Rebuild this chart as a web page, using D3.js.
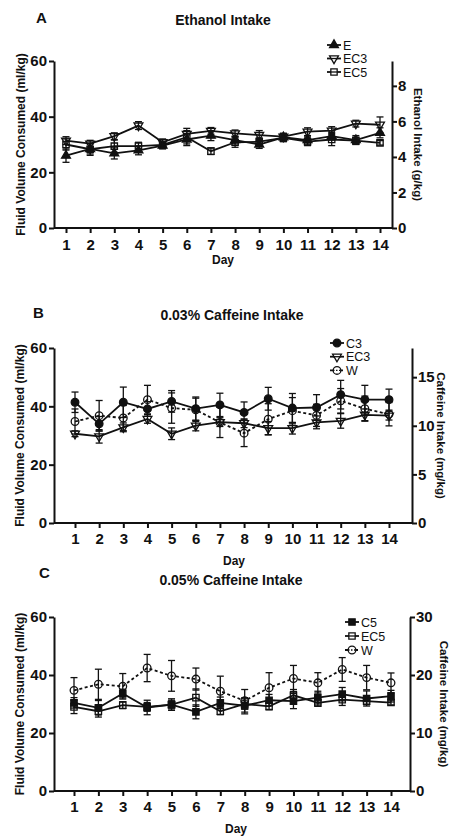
<!DOCTYPE html>
<html>
<head>
<meta charset="utf-8">
<script src="https://cdn.jsdelivr.net/npm/d3@7"></script>
<style>
body { margin: 0; background: #fff; }
svg text { font-family: "Liberation Sans", Arial, sans-serif; fill: #111; }
</style>
</head>
<body>
<svg id="chart" width="452" height="838"></svg>
<script>
// days on the x axis
var days = [1, 2, 3, 4, 5, 6, 7, 8, 9, 10, 11, 12, 13, 14];
var leftTicks = [0, 20, 40, 60];

// Panel A - ethanol intake (ml/kg), mean and SEM
var ethE      = [26.0, 28.4, 26.8, 27.9, 29.6, 31.8, 33.2, 31.6, 30.0, 32.6, 31.6, 33.0, 31.6, 34.2];
var ethE_sem  = [2.4, 1.8, 2.0, 1.6, 1.2, 2.2, 1.8, 1.4, 1.4, 1.4, 1.4, 1.4, 1.6, 1.8];
var ethEC3    = [31.4, 30.3, 33.0, 36.8, 30.8, 33.8, 34.9, 34.0, 33.4, 32.8, 34.6, 35.0, 37.5, 37.1];
var ethEC3_sem = [1.4, 1.2, 1.2, 1.4, 1.2, 2.0, 1.2, 1.2, 1.6, 1.2, 1.4, 1.4, 1.2, 2.8];
var ethEC5    = [30.0, 28.3, 29.4, 29.4, 29.9, 32.6, 27.6, 30.8, 31.0, 32.4, 31.0, 31.8, 31.4, 30.6];
var ethEC5_sem = [2.0, 2.2, 2.2, 1.4, 1.2, 2.4, 1.2, 1.8, 1.4, 1.4, 1.4, 2.2, 1.2, 0.8];
var ethRightTicks = [0, 2, 4, 6, 8];

// Panel B - 0.03% caffeine intake
var c3B       = [41.4, 34.0, 41.4, 39.1, 41.7, 39.2, 40.5, 37.9, 42.6, 39.4, 39.6, 44.0, 42.3, 42.3];
var c3B_sem   = [3.5, 2.5, 5.2, 2.5, 3.7, 4.0, 4.0, 3.6, 3.9, 5.0, 4.4, 4.9, 4.9, 3.6];
var ec3B      = [30.6, 29.7, 32.8, 35.7, 30.6, 33.4, 34.6, 34.2, 32.5, 32.5, 34.5, 35.0, 37.1, 36.8];
var ec3B_sem  = [1.0, 2.3, 1.5, 1.5, 2.0, 1.8, 1.5, 1.5, 2.3, 2.0, 2.2, 2.5, 2.0, 1.5];
var wB        = [34.8, 36.8, 36.0, 42.3, 39.4, 38.8, 34.5, 30.8, 35.6, 38.5, 36.9, 41.9, 39.2, 37.3];
var wB_sem    = [4.3, 5.2, 4.3, 4.9, 5.2, 4.0, 5.2, 4.6, 5.3, 4.5, 3.8, 4.2, 4.3, 4.0];
var cafBRightTicks = [0, 5, 10, 15];

// Panel C - 0.05% caffeine intake
var c5C       = [30.4, 28.7, 33.6, 28.8, 29.8, 27.3, 30.4, 29.4, 31.3, 31.0, 32.2, 33.4, 31.9, 32.7];
var c5C_sem   = [1.8, 2.5, 1.5, 2.5, 2.0, 2.4, 2.0, 2.8, 2.0, 2.6, 2.2, 2.3, 2.6, 2.0];
var ec5C      = [29.0, 27.5, 29.6, 29.0, 29.8, 32.2, 27.5, 30.0, 29.2, 33.0, 30.4, 31.5, 31.0, 30.5];
var ec5C_sem  = [2.3, 2.0, 1.2, 1.5, 1.5, 3.0, 1.2, 1.8, 1.2, 2.0, 1.2, 2.0, 1.2, 0.8];
var wC        = [34.7, 36.8, 36.1, 42.4, 39.7, 38.6, 34.4, 31.1, 35.6, 38.8, 37.3, 41.9, 39.1, 37.3];
var wC_sem    = [4.4, 5.2, 4.4, 4.7, 5.3, 3.8, 5.2, 3.9, 5.2, 4.5, 3.5, 4.1, 4.2, 3.4];
var cafCRightTicks = [0, 10, 20, 30];

var svg = d3.select('#chart');

// marker shapes: filled/open, symbol type, rotation
var shapes = {
    triUp:   { type: d3.symbolTriangle, size: 34, rot: 0, fill: '#111' },
    triDown: { type: d3.symbolTriangle, size: 34, rot: 180, fill: 'none' },
    sqOpen:  { type: d3.symbolSquare, size: 40, rot: 0, fill: 'none' },
    sqFill:  { type: d3.symbolSquare, size: 40, rot: 0, fill: '#111' },
    cirFill: { type: d3.symbolCircle, size: 46, rot: 0, fill: '#111' },
    cirOpen: { type: d3.symbolCircle, size: 46, rot: 0, fill: 'none' }
};

function zip(vals, sems) {
    return days.map(function(d, i) { return { day: d, v: vals[i], e: sems[i] }; });
}

function drawPanel(p) {
    var g = svg.append('g');
    var x = d3.scaleLinear().domain([1, 14]).range([p.x1, p.x14]);
    var y = d3.scaleLinear().domain([0, 60]).range([p.bottom, p.top]);
    var y2 = d3.scaleLinear().domain([0, p.rightMax]).range([p.bottom, p.top]);

    // axes
    var ax = g.append('g').attr('transform', 'translate(' + p.left + ',0)')
        .call(d3.axisLeft(y).tickValues(leftTicks).tickSize(5).tickPadding(2).tickSizeOuter(0));
    var ar = g.append('g').attr('transform', 'translate(' + p.right + ',0)')
        .call(d3.axisRight(y2).tickValues(p.rightTicks).tickSize(5).tickPadding(1).tickSizeOuter(0));
    var ab = g.append('g').attr('transform', 'translate(0,' + p.bottom + ')')
        .call(d3.axisBottom(x).tickValues(days).tickSize(5).tickPadding(p.xPad).tickSizeOuter(0));
    ab.select('.domain').remove();
    g.append('line')
        .attr('x1', p.left).attr('x2', p.right)
        .attr('y1', p.bottom).attr('y2', p.bottom)
        .attr('stroke', '#111').attr('stroke-width', 2);

    [ax, ar, ab].forEach(function(a) {
        a.selectAll('.domain').attr('stroke', '#111').attr('stroke-width', 2);
        a.selectAll('.tick line').attr('stroke', '#111').attr('stroke-width', 2);
        a.selectAll('.tick text')
            .attr('font-size', 15).attr('font-weight', 'bold')
            .style('font-family', '"Liberation Sans", Arial, sans-serif').attr('fill', '#111');
    });

    // titles
    g.append('text').attr('x', p.letterX).attr('y', p.letterY)
        .attr('font-size', 15).attr('font-weight', 'bold').text(p.letter);
    g.append('text').attr('x', p.titleX).attr('y', p.titleY)
        .attr('text-anchor', 'middle').attr('font-size', 14).attr('font-weight', 'bold').text(p.title);
    g.append('text').attr('x', p.dayX).attr('y', p.dayY)
        .attr('text-anchor', 'middle').attr('font-size', 12).attr('font-weight', 'bold').text('Day');
    var midY = (p.top + p.bottom) / 2;
    g.append('text')
        .attr('transform', 'translate(' + p.ylabX + ',' + midY + ') rotate(-90)')
        .attr('text-anchor', 'middle').attr('font-size', 12).attr('font-weight', 'bold')
        .text('Fluid Volume Consumed (ml/kg)');
    g.append('text')
        .attr('transform', 'translate(' + p.y2labX + ',' + midY + ') rotate(90)')
        .attr('text-anchor', 'middle').attr('font-size', 11.5).attr('font-weight', 'bold')
        .text(p.rightLabel);

    var line = d3.line().x(function(d) { return x(d.day); }).y(function(d) { return y(d.v); });

    p.series.forEach(function(s) {
        var data = zip(s.values, s.sem);
        var sg = g.append('g');
        // error bars
        var eb = sg.selectAll('.err').data(data).enter().append('g')
            .attr('stroke', '#111').attr('stroke-width', 1.3);
        eb.append('line')
            .attr('x1', function(d) { return x(d.day); }).attr('x2', function(d) { return x(d.day); })
            .attr('y1', function(d) { return y(d.v - d.e); }).attr('y2', function(d) { return y(d.v + d.e); });
        eb.append('line')
            .attr('x1', function(d) { return x(d.day) - 3.5; }).attr('x2', function(d) { return x(d.day) + 3.5; })
            .attr('y1', function(d) { return y(d.v + d.e); }).attr('y2', function(d) { return y(d.v + d.e); });
        eb.append('line')
            .attr('x1', function(d) { return x(d.day) - 3.5; }).attr('x2', function(d) { return x(d.day) + 3.5; })
            .attr('y1', function(d) { return y(d.v - d.e); }).attr('y2', function(d) { return y(d.v - d.e); });
        // line
        sg.append('path').datum(data)
            .attr('d', line).attr('fill', 'none').attr('stroke', '#111')
            .attr('stroke-width', 1.8)
            .attr('stroke-dasharray', s.dashed ? '3,2.5' : null);
        // markers
        var sh = shapes[s.shape];
        var sym = d3.symbol().type(sh.type).size(sh.size);
        sg.selectAll('.pt').data(data).enter().append('path')
            .attr('d', sym)
            .attr('transform', function(d) {
                return 'translate(' + x(d.day) + ',' + y(d.v) + ') rotate(' + sh.rot + ')';
            })
            .attr('fill', sh.fill).attr('stroke', '#111').attr('stroke-width', 1.3);
    });

    // legend
    p.series.forEach(function(s, i) {
        var ly = p.legY + i * p.legStep;
        var sh = shapes[s.shape];
        g.append('line').attr('x1', p.legX - 7).attr('x2', p.legX + 7)
            .attr('y1', ly).attr('y2', ly)
            .attr('stroke', '#111').attr('stroke-width', 1.8)
            .attr('stroke-dasharray', s.dashed ? '3,2' : null);
        g.append('path').attr('d', d3.symbol().type(sh.type).size(sh.size))
            .attr('transform', 'translate(' + p.legX + ',' + ly + ') rotate(' + sh.rot + ')')
            .attr('fill', sh.fill === 'none' ? '#fff' : sh.fill).attr('stroke', '#111').attr('stroke-width', 1.3);
        if (sh.fill === 'none') {
            g.append('line').attr('x1', p.legX - 4).attr('x2', p.legX + 4)
                .attr('y1', ly).attr('y2', ly).attr('stroke', '#111').attr('stroke-width', 1.3)
                .attr('stroke-dasharray', s.dashed ? '1.5,1.5' : null);
        }
        g.append('text').attr('x', p.legX + 9).attr('y', ly + 4.5)
            .attr('font-size', 12.5).text(s.name);
    });
}

drawPanel({
    letter: 'A', letterX: 36, letterY: 23, title: 'Ethanol Intake', titleX: 223, titleY: 25,
    left: 54, right: 392, top: 61, bottom: 228, x1: 66, x14: 380, xPad: 6,
    rightMax: 9.4, rightTicks: ethRightTicks, rightLabel: 'Ethanol Intake (g/kg)',
    dayX: 223, dayY: 264, ylabX: 25, y2labX: 414,
    legX: 334, legY: 45, legStep: 13.5,
    series: [
        { name: 'E', values: ethE, sem: ethE_sem, shape: 'triUp' },
        { name: 'EC3', values: ethEC3, sem: ethEC3_sem, shape: 'triDown' },
        { name: 'EC5', values: ethEC5, sem: ethEC5_sem, shape: 'sqOpen' }
    ]
});

drawPanel({
    letter: 'B', letterX: 33, letterY: 318, title: '0.03% Caffeine Intake', titleX: 232, titleY: 320,
    left: 54, right: 412, top: 348, bottom: 523, x1: 75, x14: 389, xPad: 5.5,
    rightMax: 18, rightTicks: cafBRightTicks, rightLabel: 'Caffeine Intake (mg/kg)',
    dayX: 234, dayY: 565, ylabX: 24, y2labX: 437,
    legX: 337, legY: 343, legStep: 13.7,
    series: [
        { name: 'C3', values: c3B, sem: c3B_sem, shape: 'cirFill' },
        { name: 'EC3', values: ec3B, sem: ec3B_sem, shape: 'triDown' },
        { name: 'W', values: wB, sem: wB_sem, shape: 'cirOpen', dashed: true }
    ]
});

drawPanel({
    letter: 'C', letterX: 39, letterY: 578, title: '0.05% Caffeine Intake', titleX: 231, titleY: 585,
    left: 54, right: 410, top: 617, bottom: 791, x1: 74, x14: 391, xPad: 5.5,
    rightMax: 30, rightTicks: cafCRightTicks, rightLabel: 'Caffeine Intake (mg/kg)',
    dayX: 236, dayY: 833, ylabX: 24, y2labX: 440,
    legX: 352, legY: 622, legStep: 14,
    series: [
        { name: 'C5', values: c5C, sem: c5C_sem, shape: 'sqFill' },
        { name: 'EC5', values: ec5C, sem: ec5C_sem, shape: 'sqOpen' },
        { name: 'W', values: wC, sem: wC_sem, shape: 'cirOpen', dashed: true }
    ]
});
</script>
</body>
</html>
